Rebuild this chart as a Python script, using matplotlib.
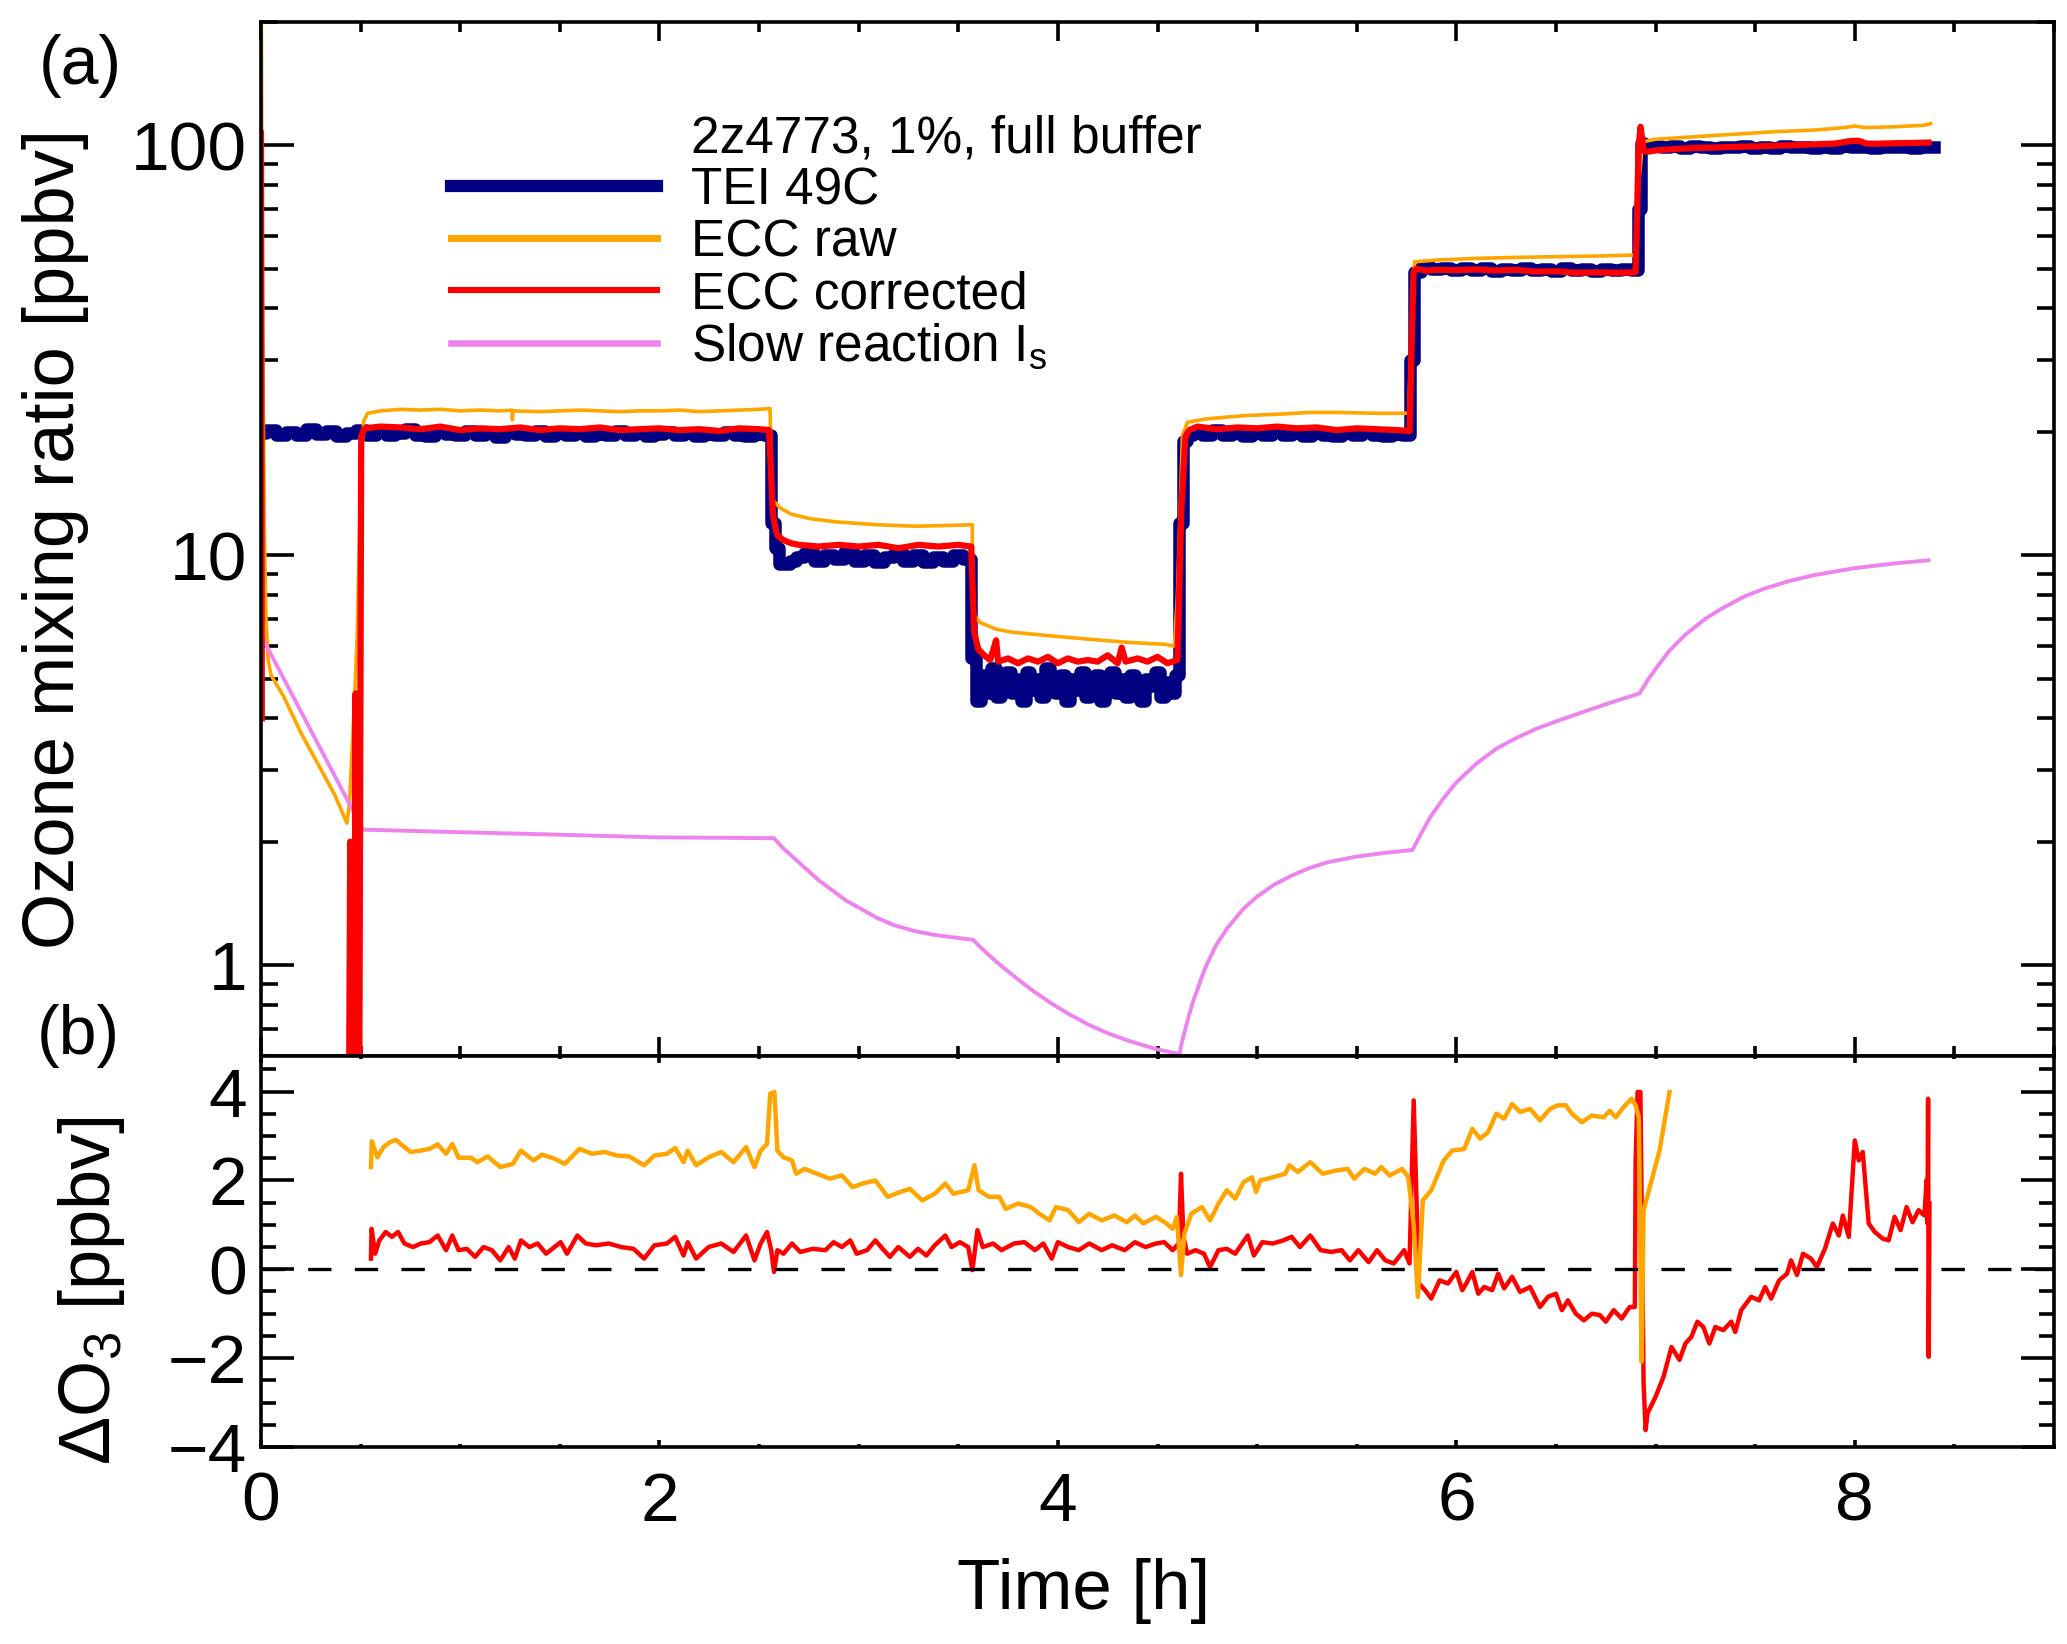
import numpy as np
import matplotlib
matplotlib.use('Agg')
import matplotlib.pyplot as plt
from matplotlib.lines import Line2D
from matplotlib.ticker import MultipleLocator, LogLocator, NullFormatter

plt.rcParams['font.family'] = ['Liberation Sans', 'DejaVu Sans']
plt.rcParams['mathtext.fontset'] = 'custom'
plt.rcParams['mathtext.rm'] = 'Liberation Sans'
plt.rcParams['mathtext.it'] = 'Liberation Sans:italic'
plt.rcParams['mathtext.default'] = 'regular'

nan = float('nan')

# ---------------- panel (a): mixing ratios [ppbv] vs time [h] ----------------
# TEI 49C, one list per ozone level
tei_t_20a = [0.00, 0.05, 0.10, 0.15, 0.20, 0.25, 0.30, 0.35, 0.40, 0.45,
             0.50, 0.55, 0.60, 0.65, 0.70, 0.75, 0.80, 0.85, 0.90, 0.95,
             1.00, 1.05, 1.10, 1.15, 1.20, 1.25, 1.30, 1.35, 1.40, 1.45,
             1.50, 1.55, 1.60, 1.65, 1.70, 1.75, 1.80, 1.85, 1.90, 1.95,
             2.00, 2.05, 2.10, 2.15, 2.20, 2.25, 2.30, 2.35, 2.40, 2.45,
             2.50, 2.55]
tei_v_20a = [19.9, 20.2, 19.7, 20.0, 19.6, 20.3, 19.8, 20.1, 19.5, 19.9,
             20.2, 19.7, 20.0, 19.6, 19.9, 20.3, 19.7, 19.5, 20.0, 19.8,
             19.6, 20.1, 19.7, 19.9, 19.4, 20.0, 19.8, 19.6, 20.1, 19.5,
             19.9, 19.7, 20.0, 19.5, 19.8, 19.6, 20.1, 19.7, 19.9, 19.5,
             19.8, 20.0, 19.6, 19.9, 19.5, 19.8, 19.6, 20.0, 19.7, 19.5,
             19.8, 19.6]
tei_t_10 = [2.57, 2.59, 2.61, 2.64, 2.67, 2.70, 2.75, 2.80, 2.85, 2.90,
            2.95, 3.00, 3.05, 3.10, 3.15, 3.20, 3.25, 3.30, 3.35, 3.40,
            3.45, 3.50, 3.55]
tei_v_10 = [12.0, 10.4, 9.5, 9.5, 9.7, 9.9, 10.1, 9.7, 10.0, 9.8,
            10.2, 9.7, 10.0, 9.6, 9.9, 10.1, 9.7, 10.0, 9.6, 9.9,
            9.7, 10.0, 9.8]
tei_t_5 = [3.580, 3.600, 3.625, 3.650, 3.675, 3.700, 3.725, 3.750, 3.775, 3.800,
           3.825, 3.850, 3.875, 3.900, 3.925, 3.950, 3.975, 4.000, 4.025, 4.050,
           4.075, 4.100, 4.125, 4.150, 4.175, 4.200, 4.225, 4.250, 4.275, 4.300,
           4.325, 4.350, 4.375, 4.400, 4.425, 4.450, 4.475, 4.500, 4.525, 4.550,
           4.575, 4.600]
tei_v_5 = [5.6, 4.4, 5.1, 4.6, 5.3, 4.5, 4.9, 5.2, 4.6, 5.0,
           4.4, 5.2, 4.7, 5.0, 4.5, 5.3, 4.8, 4.6, 5.1, 4.4,
           5.0, 4.7, 5.2, 4.5, 4.9, 5.1, 4.4, 4.8, 5.2, 4.6,
           5.0, 4.5, 5.1, 4.7, 4.4, 5.0, 4.8, 5.2, 4.5, 4.9,
           4.6, 5.1]
tei_t_20b = [4.62, 4.64, 4.66, 4.70, 4.75, 4.80, 4.85, 4.90, 4.95, 5.00,
             5.05, 5.10, 5.15, 5.20, 5.25, 5.30, 5.35, 5.40, 5.45, 5.50,
             5.55, 5.60, 5.65, 5.70, 5.75]
tei_v_20b = [12.0, 19.0, 19.6, 20.0, 19.6, 20.2, 19.7, 20.0, 19.5, 19.9,
             19.6, 20.1, 19.7, 19.9, 19.5, 20.0, 19.7, 19.5, 19.9, 19.6,
             20.0, 19.7, 19.5, 19.8, 19.6]
tei_t_50 = [5.78, 5.80, 5.85, 5.90, 5.95, 6.00, 6.05, 6.10, 6.15, 6.20,
            6.25, 6.30, 6.35, 6.40, 6.45, 6.50, 6.55, 6.60, 6.65, 6.70,
            6.75, 6.80, 6.85, 6.90]
tei_v_50 = [30.0, 49.0, 50.4, 49.8, 50.3, 49.6, 50.1, 49.7, 50.2, 49.5,
            50.0, 49.7, 50.3, 49.6, 49.9, 49.5, 50.1, 49.7, 50.0, 49.5,
            49.9, 49.6, 50.0, 49.7]
tei_t_100 = [6.92, 6.935, 6.95, 7.00, 7.05, 7.10, 7.15, 7.20, 7.25, 7.30,
             7.35, 7.40, 7.45, 7.50, 7.55, 7.60, 7.65, 7.70, 7.75, 7.80,
             7.85, 7.90, 7.95, 8.00, 8.05, 8.10, 8.15, 8.20, 8.25, 8.30,
             8.35, 8.40]
tei_v_100 = [70.0, 101.5, 99.2, 99.6, 98.9, 99.4, 98.8, 99.5, 99.0, 98.7,
             99.3, 98.9, 99.5, 98.7, 99.2, 98.8, 99.4, 98.9, 99.3, 98.7,
             99.1, 98.8, 99.4, 98.9, 99.2, 98.7, 99.3, 98.9, 99.2, 98.6,
             99.1, 98.9]

raw_t = [0.0, 0.008, 0.016, 0.025, 0.035, 0.05, 0.116, 0.2, 0.285, 0.369,
         0.431, 0.444, 0.47, 0.483, 0.50, 0.515, 0.535, 0.6, 0.7, 0.8,
         0.9, 1.0, 1.1, 1.2, 1.26, 1.262, 1.265, 1.4, 1.5, 1.6,
         1.7, 1.8, 1.9, 2.0, 2.1, 2.2, 2.3, 2.4, 2.5, 2.555,
         2.566, 2.605, 2.66, 2.76, 2.895, 3.09, 3.28, 3.48, 3.57,
         3.574, 3.61, 3.69, 3.77, 3.96, 4.155, 4.35, 4.54, 4.585,
         4.60, 4.625, 4.65, 4.74, 4.93, 5.12, 5.26, 5.4, 5.6, 5.76,
         5.775, 5.79, 5.9, 6.1, 6.3, 6.5, 6.7, 6.9,
         6.915, 6.935, 7.0, 7.2, 7.4, 7.6, 7.8, 7.95, 8.0, 8.05, 8.2, 8.35, 8.38]
raw_v = [300, 40, 12, 7.0, 5.6, 5.1, 4.5, 3.69, 3.1, 2.61,
         2.22, 2.48, 4.5, 6.4, 15.0, 21.2, 22.2, 22.5, 22.7, 22.6,
         22.7, 22.5, 22.6, 22.5, 22.6, 21.4, 22.5, 22.4, 22.5, 22.6,
         22.5, 22.4, 22.5, 22.5, 22.6, 22.4, 22.5, 22.6, 22.7, 22.8,
         13.7, 13.05, 12.6, 12.27, 12.05, 11.87, 11.77, 11.83, 11.87,
         7.19, 6.85, 6.6, 6.49, 6.36, 6.24, 6.13, 6.06, 6.0,
         8.0, 19.5, 21.1, 21.5, 21.9, 22.1, 22.3, 22.3, 22.2, 22.2,
         35, 52.0, 52.5, 53.0, 53.3, 53.5, 53.7, 54.0,
         80, 102, 103.5, 105, 106.5, 108, 109, 110.5, 111.5, 110.5, 111, 112, 113]

cor_t = [0.0, 0.004, 0.006, 0.440, 0.448, 0.456, 0.468, 0.475, 0.482, 0.492,
         0.503, 0.52, 0.6, 0.7, 0.8, 0.9, 1.0, 1.1, 1.2, 1.3,
         1.4, 1.5, 1.6, 1.7, 1.8, 1.9, 2.0, 2.1, 2.2, 2.3, 2.4, 2.5, 2.55,
         2.57, 2.59, 2.62, 2.66, 2.7, 2.8, 2.9, 3.0, 3.1, 3.2, 3.3, 3.4, 3.5, 3.565,
         3.58, 3.6, 3.63, 3.66, 3.69, 3.7, 3.75, 3.8, 3.85, 3.9,
         3.95, 4.0, 4.05, 4.1, 4.15, 4.2, 4.25, 4.3, 4.32, 4.34,
         4.4, 4.45, 4.5, 4.55, 4.6,
         4.62, 4.64, 4.66, 4.7, 4.8, 4.9, 5.0, 5.1, 5.2, 5.3, 5.4, 5.5, 5.6, 5.7, 5.765,
         5.785, 5.80, 5.85, 5.9, 6.0, 6.1, 6.2, 6.3, 6.4, 6.5, 6.6, 6.7, 6.8, 6.9,
         6.915, 6.925, 6.94, 6.96, 7.0, 7.1, 7.2, 7.3, 7.4, 7.5,
         7.6, 7.7, 7.8, 7.9, 7.98, 8.02, 8.06, 8.1, 8.2, 8.3, 8.37]
cor_v = [107, 4.0, nan, 0.3, 2.0, 0.3, 0.3, 4.6, 0.3, 0.3,
         19.5, 20.4, 20.6, 20.5, 20.3, 20.6, 20.2, 20.4, 20.3, 20.5,
         20.2, 20.4, 20.3, 20.5, 20.2, 20.3, 20.4, 20.2, 20.3, 20.1, 20.4, 20.3, 20.2,
         12.5, 11.2, 10.9, 10.7, 10.6, 10.5, 10.6, 10.5, 10.6, 10.4, 10.6, 10.5, 10.6, 10.5,
         6.5, 5.9, 5.7, 5.55, 6.2, 5.5, 5.6, 5.45, 5.6, 5.5,
         5.65, 5.45, 5.6, 5.5, 5.55, 5.5, 5.7, 5.45, 5.95, 5.5,
         5.6, 5.5, 5.65, 5.45, 5.55,
         13, 19.5, 20.2, 20.6, 20.3, 20.5, 20.4, 20.6, 20.4, 20.5, 20.2, 20.4, 20.3, 20.2, 20.1,
         49.0, 50.0, 49.5, 49.7, 49.6, 49.8, 49.5, 49.7, 49.2, 49.3, 48.9, 49.0, 48.9, 49.0,
         99, 111, 97, 96.5, 97.2, 98.0, 98.6, 98.8, 99.2, 99.4,
         99.8, 100.1, 100.6, 101.0, 102.5, 102.6, 101.0, 100.9, 101.2, 101.4, 101.6]

slow_t = [0.007, 0.512, 1.0, 1.5, 1.97, 2.575, 2.62, 2.70, 2.80, 2.934,
          3.09, 3.18, 3.283, 3.38, 3.477, 3.574, 3.62, 3.69, 3.75, 3.806,
          3.88, 3.961, 4.05, 4.155, 4.25, 4.349, 4.43, 4.504, 4.61, 4.62,
          4.64, 4.66, 4.68, 4.70, 4.72, 4.75, 4.795, 4.85, 4.93, 5.0,
          5.085, 5.17, 5.256, 5.35, 5.5, 5.65, 5.78, 5.82, 5.87, 5.93,
          6.0, 6.1, 6.2, 6.3, 6.4, 6.5, 6.67, 6.8, 6.92, 6.96,
          7.0, 7.07, 7.15, 7.25, 7.33, 7.45, 7.55, 7.67, 7.8, 8.0,
          8.2, 8.37]
slow_v = [6.28, 2.14, 2.11, 2.08, 2.05, 2.04, 1.93, 1.78, 1.61, 1.44,
          1.305, 1.25, 1.21, 1.185, 1.168, 1.153, 1.095, 1.02, 0.965, 0.918,
          0.862, 0.81, 0.762, 0.715, 0.682, 0.655, 0.637, 0.622, 0.607, 0.64,
          0.70, 0.76, 0.82, 0.87, 0.93, 1.01, 1.12, 1.23, 1.37, 1.47,
          1.57, 1.65, 1.72, 1.78, 1.84, 1.88, 1.91, 2.08, 2.30, 2.53,
          2.79, 3.10, 3.37, 3.58, 3.77, 3.93, 4.20, 4.41, 4.60, 4.95,
          5.28, 5.85, 6.40, 7.00, 7.40, 7.95, 8.30, 8.65, 8.95, 9.30,
          9.55, 9.72]

# ---------------- panel (b): ECC minus TEI [ppbv] ----------------
draw_t = [0.552, 0.556, 0.584, 0.615, 0.646, 0.678, 0.709, 0.751, 0.803, 0.845,
          0.887, 0.929, 0.960, 0.992, 1.054, 1.086, 1.138, 1.201, 1.264, 1.305,
          1.368, 1.410, 1.473, 1.525, 1.598, 1.661, 1.724, 1.787, 1.849, 1.923,
          1.975, 2.038, 2.079, 2.121, 2.142, 2.184, 2.247, 2.310, 2.372, 2.435,
          2.477, 2.508, 2.540, 2.556, 2.577, 2.592, 2.623, 2.665, 2.686, 2.728,
          2.791, 2.854, 2.916, 2.969, 3.021, 3.084, 3.146, 3.209,
          3.257, 3.319, 3.382, 3.435, 3.476, 3.550, 3.581, 3.602, 3.654, 3.707,
          3.738, 3.801, 3.864, 3.906, 3.958, 3.990, 4.052, 4.105, 4.157, 4.220,
          4.283, 4.346, 4.387, 4.429, 4.492, 4.545, 4.576, 4.597, 4.618, 4.635,
          4.670, 4.723, 4.764, 4.806, 4.848, 4.890, 4.932, 4.974, 4.995, 5.016,
          5.079, 5.141, 5.162, 5.204, 5.267, 5.330, 5.393, 5.455, 5.487, 5.539,
          5.592, 5.623, 5.665, 5.728, 5.759, 5.786, 5.807, 5.832, 5.874, 5.937,
          5.979,
          6.04, 6.08, 6.12, 6.16, 6.20, 6.24, 6.28, 6.32, 6.37, 6.42,
          6.47, 6.51, 6.55, 6.58, 6.63, 6.68, 6.74, 6.77, 6.80, 6.84,
          6.88, 6.90, 6.916, 6.93, 6.94, 6.98, 7.02, 7.07]
draw_v = [2.30, 2.88, 2.52, 2.75, 2.86, 2.91, 2.79, 2.64, 2.67, 2.71,
          2.81, 2.60, 2.82, 2.51, 2.51, 2.41, 2.54, 2.30, 2.37, 2.67,
          2.45, 2.58, 2.49, 2.37, 2.71, 2.60, 2.64, 2.56, 2.54, 2.34,
          2.56, 2.60, 2.73, 2.41, 2.67, 2.34, 2.52, 2.64, 2.41, 2.75,
          2.30, 2.67, 2.82, 3.95, 3.99, 2.67, 2.52, 2.45, 2.15, 2.26,
          2.15, 2.04, 2.11, 1.85, 1.93, 2.00, 1.63, 1.74,
          1.81, 1.55, 1.70, 1.93, 1.70, 1.78, 2.34, 1.78, 1.63, 1.63,
          1.36, 1.48, 1.40, 1.25, 1.10, 1.40, 1.33, 1.06, 1.25, 1.10,
          1.21, 1.06, 1.21, 1.03, 1.18, 1.03, 0.91, 1.18, -0.13, 0.80,
          1.25, 1.40, 1.10, 1.48, 1.78, 1.59, 1.96, 2.07, 1.74, 2.00,
          2.07, 2.15, 2.34, 2.19, 2.41, 2.15, 2.22, 2.26, 2.04, 2.26,
          2.15, 2.30, 2.11, 2.26, 2.07, 1.0, -0.62, 1.55, 1.78, 2.45,
          2.67,
          2.71, 3.16, 2.94, 3.09, 3.50, 3.39, 3.72, 3.54, 3.61, 3.35,
          3.61, 3.69, 3.69, 3.50, 3.31, 3.46, 3.42, 3.57, 3.42, 3.65,
          3.84, 3.69, 3.42, -2.08, 1.33, 2.0, 2.67, 3.99]

dcor_t = [0.552, 0.555, 0.573, 0.594, 0.626, 0.657, 0.688, 0.720, 0.762, 0.803,
          0.845, 0.887, 0.929, 0.960, 0.992, 1.033, 1.075, 1.117, 1.159, 1.201,
          1.243, 1.274, 1.305, 1.347, 1.389, 1.431, 1.473, 1.504, 1.536, 1.588,
          1.630, 1.682, 1.745, 1.808, 1.870, 1.923, 1.975, 2.038, 2.079, 2.121,
          2.142, 2.184, 2.247, 2.310, 2.372, 2.435, 2.477, 2.508, 2.540, 2.561,
          2.575, 2.592, 2.623, 2.665, 2.707, 2.770, 2.833, 2.874, 2.916, 2.958,
          2.990, 3.042, 3.084, 3.126, 3.157, 3.199,
          3.257, 3.298, 3.340, 3.382, 3.435, 3.466, 3.508, 3.550, 3.571, 3.596,
          3.623, 3.675, 3.717, 3.780, 3.832, 3.885, 3.927, 3.969, 4.000, 4.052,
          4.105, 4.157, 4.220, 4.272, 4.335, 4.387, 4.440, 4.492, 4.534, 4.576,
          4.607, 4.618, 4.630, 4.649, 4.691, 4.733, 4.764, 4.806, 4.848, 4.890,
          4.953, 4.984, 5.026, 5.079, 5.131, 5.173, 5.215, 5.267, 5.319, 5.372,
          5.424, 5.466, 5.508, 5.560, 5.602, 5.644, 5.686, 5.738, 5.765, 5.786,
          5.812, 5.843, 5.874, 5.916, 5.958, 6.000,
          6.03, 6.05, 6.08, 6.11, 6.14, 6.18, 6.21, 6.24, 6.28, 6.32,
          6.37, 6.42, 6.46, 6.50, 6.53, 6.56, 6.60, 6.64, 6.68, 6.72,
          6.75, 6.79, 6.83, 6.87, 6.896, 6.90, 6.91, 6.924, 6.94, 6.95,
          6.96, 7.00, 7.04, 7.08, 7.12, 7.15, 7.18, 7.21, 7.24, 7.27,
          7.30, 7.34, 7.38, 7.40, 7.43, 7.48, 7.52, 7.55, 7.58, 7.62,
          7.66, 7.68, 7.71, 7.74, 7.78, 7.81, 7.85, 7.89, 7.92, 7.94,
          7.97, 8.00, 8.02, 8.04, 8.07, 8.10, 8.14, 8.17, 8.20, 8.23,
          8.26, 8.29, 8.32, 8.35, 8.36, 8.365, 8.368, 8.371, 8.375]
dcor_v = [0.24, 0.91, 0.35, 0.65, 0.84, 0.73, 0.84, 0.58, 0.50, 0.58,
          0.61, 0.76, 0.43, 0.76, 0.43, 0.46, 0.28, 0.50, 0.43, 0.20,
          0.50, 0.24, 0.65, 0.50, 0.58, 0.35, 0.50, 0.61, 0.35, 0.76,
          0.58, 0.54, 0.58, 0.50, 0.46, 0.24, 0.54, 0.58, 0.73, 0.31,
          0.61, 0.24, 0.50, 0.58, 0.39, 0.76, 0.20, 0.58, 0.84, 0.43,
          -0.06, 0.43, 0.35, 0.58, 0.39, 0.46, 0.43, 0.61, 0.50, 0.65,
          0.35, 0.43, 0.65, 0.43, 0.28, 0.50,
          0.28, 0.46, 0.31, 0.54, 0.76, 0.50, 0.61, 0.50, -0.02, 0.88,
          0.50, 0.58, 0.43, 0.58, 0.61, 0.43, 0.58, 0.24, 0.61, 0.50,
          0.43, 0.58, 0.43, 0.54, 0.43, 0.61, 0.50, 0.58, 0.61, 0.43,
          0.58, 2.15, 0.73, 0.35, 0.43, 0.35, 0.05, 0.43, 0.46, 0.35,
          0.76, 0.31, 0.61, 0.58, 0.65, 0.73, 0.50, 0.76, 0.43, 0.39,
          0.43, 0.20, 0.43, 0.16, 0.43, 0.20, 0.13, 0.43, 0.13, 3.80,
          -0.32, -0.47, -0.66, -0.25, -0.32, -0.06,
          -0.47, -0.32, -0.06, -0.55, -0.40, -0.47, -0.10, -0.43, -0.17, -0.51,
          -0.40, -0.85, -0.62, -0.55, -0.92, -0.70, -1.00, -1.15, -1.00, -1.03,
          -1.18, -0.92, -1.11, -0.85, -0.85, 2.45, 3.99, 3.99, -2.57, -3.62,
          -3.24, -2.87, -2.42, -1.75, -2.04, -1.67, -1.52, -1.18, -1.30, -1.67,
          -1.30, -1.37, -1.18, -1.41, -0.92, -0.62, -0.70, -0.40, -0.66, -0.25,
          -0.10, 0.20, -0.13, 0.35, 0.24, 0.05, 0.46, 1.03, 0.76, 1.21,
          0.73, 2.90, 2.45, 2.64, 1.03, 0.84, 0.69, 0.65, 1.18, 0.88,
          1.40, 1.06, 1.33, 1.21, 2.0, 1.03, 3.84, -1.97, 1.48]

legend_title = '2z4773, 1%, full buffer'
legend_labels = ['TEI 49C', 'ECC raw', 'ECC corrected', r'Slow reaction I$_{s}$']

NAVY = '#000080'
ORANGE = '#FFA500'
RED = '#FF0000'
VIOLET = '#EE82EE'

tei_t = tei_t_20a + tei_t_10 + tei_t_5 + tei_t_20b + tei_t_50 + tei_t_100
tei_v = tei_v_20a + tei_v_10 + tei_v_5 + tei_v_20b + tei_v_50 + tei_v_100

W, H = 2067.0, 1644.0
fig = plt.figure(figsize=(W / 100, H / 100), dpi=100)
ax1 = fig.add_axes([261 / W, 1 - 1056 / H, 1793 / W, 1034 / H])
ax2 = fig.add_axes([261 / W, 1 - 1447 / H, 1793 / W, 391 / H])

# panel (a)
ax1.plot(tei_t, tei_v, color=NAVY, lw=9.0, drawstyle='steps-mid')
ax1.plot(raw_t, raw_v, color=ORANGE, lw=2.6)
ax1.plot(slow_t, slow_v, color=VIOLET, lw=2.8)
ax1.plot(cor_t, cor_v, color=RED, lw=4.5)
ax1.set_yscale('log')
ax1.set_xlim(0, 9)
ax1.set_ylim(0.6, 200)
ax1.set_yticks([1, 10, 100])
ax1.set_yticklabels(['1', '10', '100'])
ax1.yaxis.set_minor_locator(LogLocator(base=10, subs=np.arange(2, 10)))
ax1.yaxis.set_minor_formatter(NullFormatter())
ax1.xaxis.set_major_locator(MultipleLocator(2))
ax1.xaxis.set_minor_locator(MultipleLocator(0.5))
ax1.tick_params(which='both', direction='in', top=True, right=True,
                labelbottom=False, width=2.6)
ax1.tick_params(axis='y', which='major', length=24, labelsize=50, pad=10)
ax1.tick_params(axis='y', which='minor', length=12)
ax1.tick_params(axis='x', which='major', length=13.5)
ax1.tick_params(axis='x', which='minor', length=7)
ax1.set_ylabel('Ozone mixing ratio [ppbv]', fontsize=52)
ax1.yaxis.set_label_coords(-0.096, 0.5)

handles = [Line2D([], [], color='none', lw=0),
           Line2D([], [], color=NAVY, lw=8.8),
           Line2D([], [], color=ORANGE, lw=5.0),
           Line2D([], [], color=RED, lw=4.4),
           Line2D([], [], color=VIOLET, lw=4.7)]
ax1.legend(handles, [legend_title] + legend_labels, loc='upper left',
           bbox_to_anchor=(0.106, 0.911), frameon=False, fontsize=37,
           handlelength=4.0, handletextpad=0.66, labelspacing=0.06,
           borderpad=0, borderaxespad=0)

# panel (b)
ax2.plot(dcor_t, dcor_v, color=RED, lw=3.2)
ax2.plot(draw_t, draw_v, color=ORANGE, lw=3.2)
ax2.axhline(0, color='k', lw=2.4, dashes=(7, 7))
ax2.set_xlim(0, 9)
ax2.set_ylim(-4, 4.8)
ax2.yaxis.set_major_locator(MultipleLocator(2))
ax2.yaxis.set_minor_locator(MultipleLocator(0.5))
ax2.xaxis.set_major_locator(MultipleLocator(2))
ax2.xaxis.set_minor_locator(MultipleLocator(0.5))
ax2.tick_params(which='both', direction='in', top=True, right=True, width=2.6)
ax2.tick_params(axis='y', which='major', length=24, labelsize=50, pad=10)
ax2.tick_params(axis='y', which='minor', length=11)
ax2.tick_params(axis='x', which='major', length=5, labelsize=50, pad=17)
ax2.tick_params(axis='x', which='minor', length=2.5)
ax2.set_ylabel('ΔO$_3$ [ppbv]', fontsize=52)
ax2.yaxis.set_label_coords(-0.075, 0.40)
ax2.set_xlabel('Time [h]', fontsize=51)
ax2.xaxis.set_label_coords(0.459, -0.285)

for ax in (ax1, ax2):
    for sp in ax.spines.values():
        sp.set_linewidth(2.6)

fig.text(80 / W, 1 - 66 / H, '(a)', fontsize=49, ha='center', va='center')
fig.text(78 / W, 1 - 1036 / H, '(b)', fontsize=49, ha='center', va='center')

fig.savefig('out.png', dpi=100)
